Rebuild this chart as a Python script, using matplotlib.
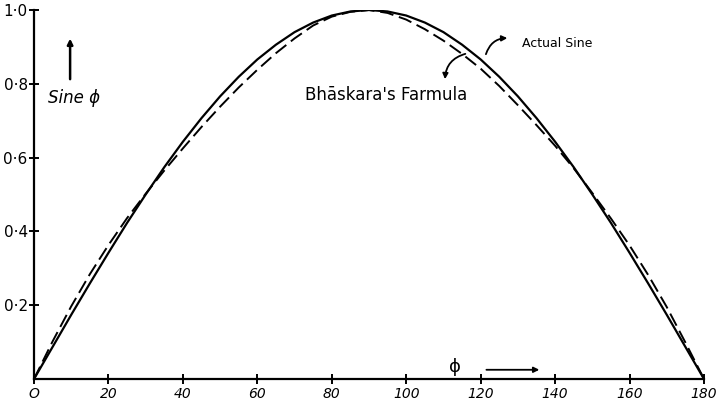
import matplotlib
matplotlib.use("Agg")
import matplotlib.pyplot as plt

# Angle phi in degrees
phi = [0, 5, 10, 15, 20, 25, 30, 35, 40, 45, 50, 55, 60, 65, 70, 75, 80, 85, 90,
       95, 100, 105, 110, 115, 120, 125, 130, 135, 140, 145, 150, 155, 160, 165,
       170, 175, 180]

# Actual sine (solid curve)
actual_sine = [0.000, 0.087, 0.174, 0.259, 0.342, 0.423, 0.500, 0.574, 0.643,
               0.707, 0.766, 0.819, 0.866, 0.906, 0.940, 0.966, 0.985, 0.996,
               1.000, 0.996, 0.985, 0.966, 0.940, 0.906, 0.866, 0.819, 0.766,
               0.707, 0.643, 0.574, 0.500, 0.423, 0.342, 0.259, 0.174, 0.087,
               0.000]

# Bhaskara's formula (dashed curve), as drawn in the picture
bhaskara = [0.000, 0.102, 0.197, 0.284, 0.363, 0.436, 0.502, 0.565, 0.625,
            0.683, 0.738, 0.790, 0.838, 0.883, 0.923, 0.958, 0.982, 0.995,
            1.000, 0.992, 0.974, 0.948, 0.917, 0.881, 0.841, 0.794, 0.742,
            0.688, 0.632, 0.571, 0.504, 0.435, 0.362, 0.282, 0.195, 0.099,
            0.000]

x_ticks = [0, 20, 40, 60, 80, 100, 120, 140, 160, 180]
x_tick_labels = ["O", "20", "40", "60", "80", "100", "120", "140", "160", "180"]
y_ticks = [0.2, 0.4, 0.6, 0.8, 1.0]
y_tick_labels = ["0·2", "0·4", "0·6", "0·8", "1·0"]

fig = plt.figure(figsize=(7.26, 4.01), dpi=100)
ax = fig.add_axes([34 / 726, 1 - 379 / 401, (704 - 34) / 726, (379 - 10) / 401])

ax.plot(phi, actual_sine, color="black", lw=1.6, solid_capstyle="round")
ax.plot(phi, bhaskara, color="black", lw=1.4, linestyle=(0, (7, 3)))

ax.set_xlim(0, 180)
ax.set_ylim(0, 1.0)
for s in ["top", "right"]:
    ax.spines[s].set_visible(False)
for s in ["left", "bottom"]:
    ax.spines[s].set_linewidth(1.6)
    ax.spines[s].set_color("black")

ax.set_xticks(x_ticks)
ax.set_xticklabels(x_tick_labels, fontsize=10, style="italic")
ax.set_yticks(y_ticks)
ax.set_yticklabels(y_tick_labels, fontsize=11)
ax.tick_params(axis="both", direction="inout", length=7, width=1.4, colors="black")
ax.tick_params(axis="x", pad=2)
ax.tick_params(axis="y", pad=1)

# Y-axis label with upward arrow
ax.annotate("", xy=(9.7, 0.93), xytext=(9.7, 0.805),
            arrowprops=dict(arrowstyle="-|>", color="black", lw=1.8,
                            mutation_scale=8))
ax.text(3.8, 0.762, "Sine ϕ", fontsize=12, style="italic", va="center", ha="left")

# X-axis label with arrow
ax.text(113.2, 0.032, "ϕ", fontsize=13, va="center", ha="center")
ax.annotate("", xy=(136.5, 0.025), xytext=(120.8, 0.025),
            arrowprops=dict(arrowstyle="-|>", color="black", lw=1.3,
                            mutation_scale=8))

# Curve labels
ax.text(131.0, 0.91, "Actual Sine", fontsize=9, va="center", ha="left")
ax.annotate("", xy=(127.9, 0.924), xytext=(121.2, 0.873),
            arrowprops=dict(arrowstyle="-|>", color="black", lw=1.3,
                            mutation_scale=8, connectionstyle="arc3,rad=-0.4"))
ax.text(72.8, 0.77, "Bhāskara's Farmula", fontsize=12, va="center", ha="left")
ax.annotate("", xy=(110.4, 0.805), xytext=(116.6, 0.883),
            arrowprops=dict(arrowstyle="-|>", color="black", lw=1.3,
                            mutation_scale=8, connectionstyle="arc3,rad=0.4"))

fig.savefig("out.png", dpi=100, facecolor="white")
